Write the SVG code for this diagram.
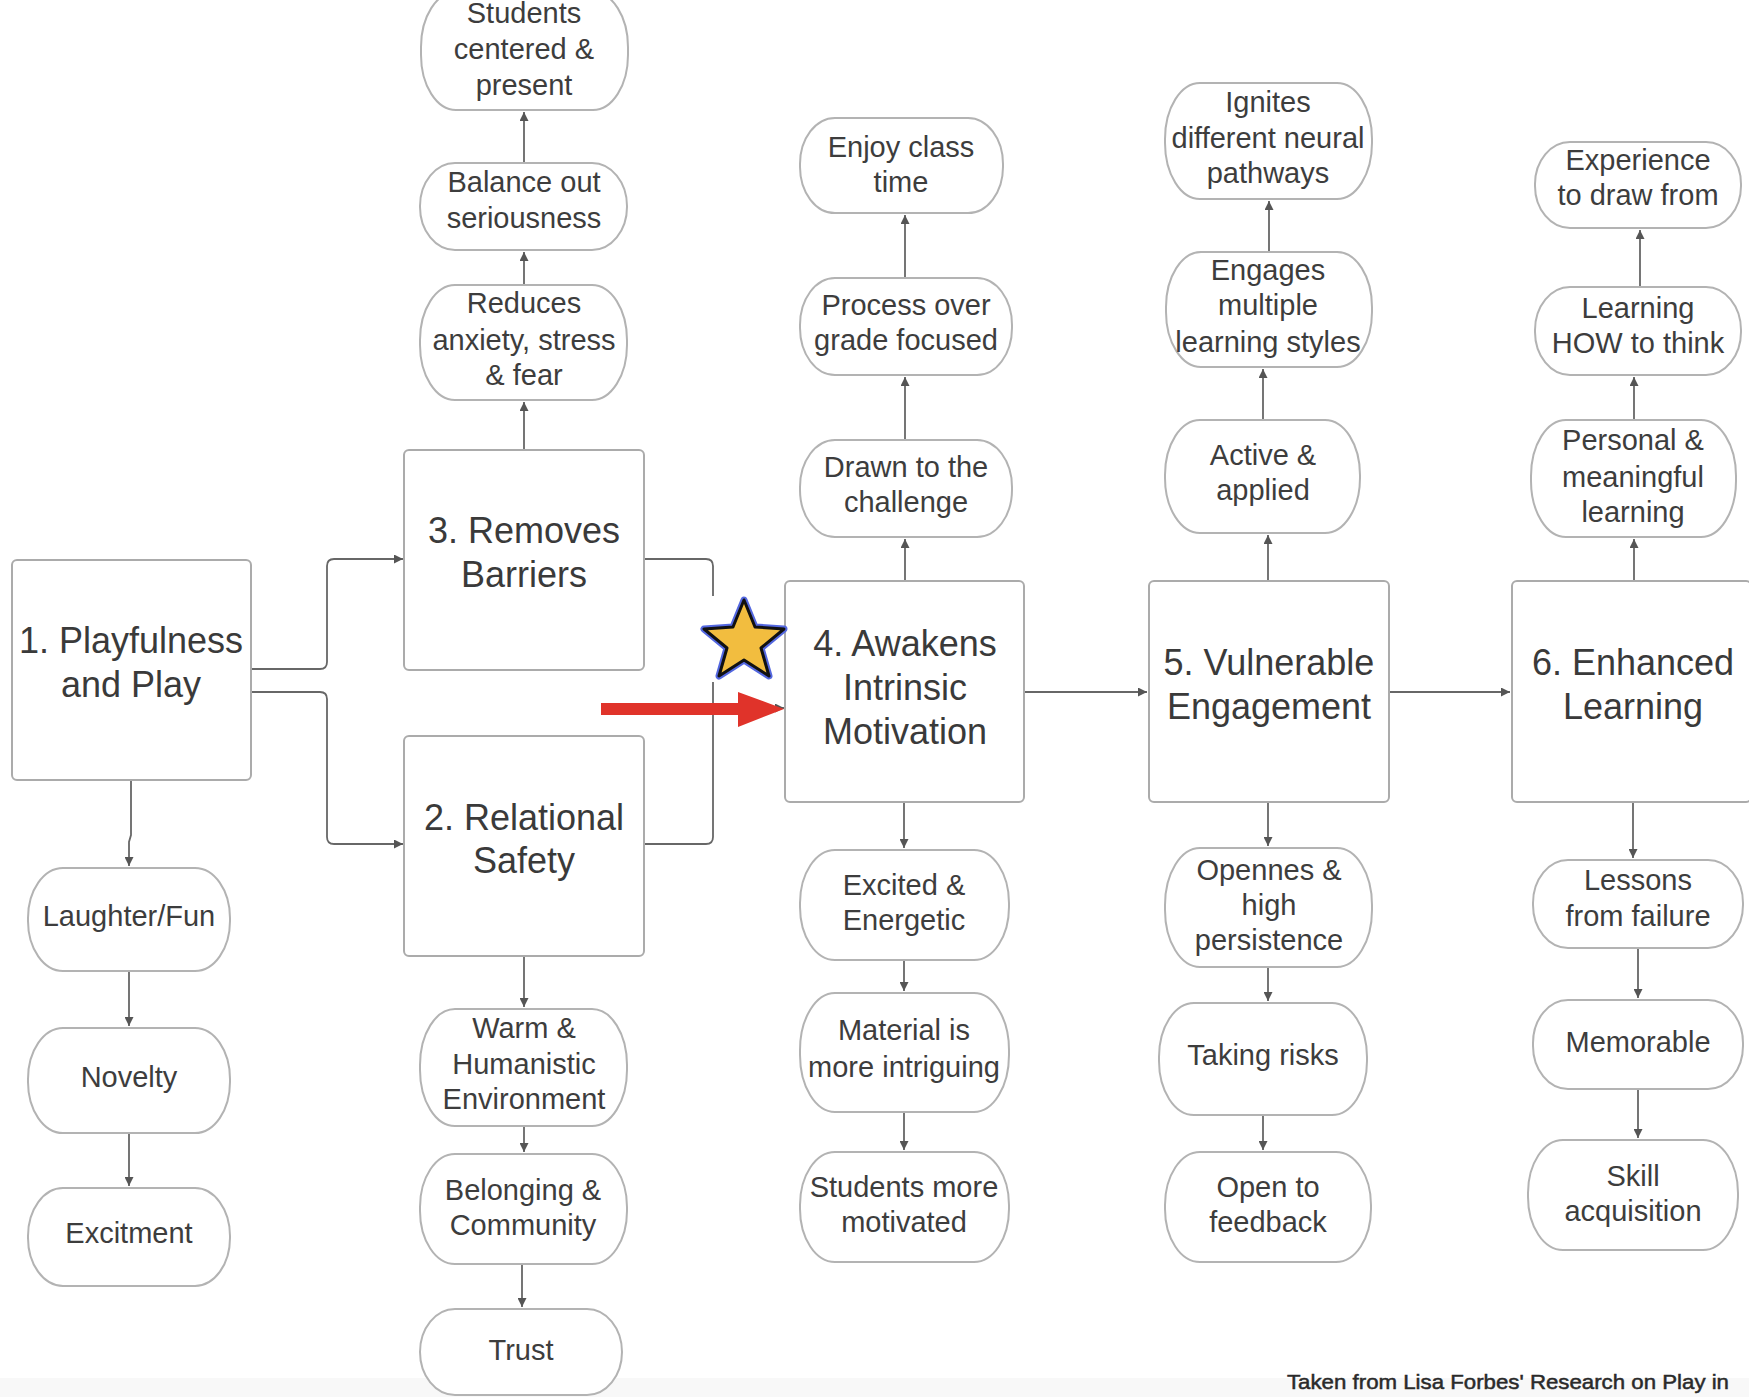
<svg xmlns="http://www.w3.org/2000/svg" width="1749" height="1397" viewBox="0 0 1749 1397">
<style>
.box{fill:#fff;stroke:#ababab;stroke-width:2}
.ov{fill:#fff;stroke:#b3b3b3;stroke-width:2}
.bt{font-family:"Liberation Sans",Arial,sans-serif;font-size:36px;fill:#3a3a3a;text-anchor:middle}
.ot{font-family:"Liberation Sans",Arial,sans-serif;font-size:29px;fill:#3d3d3d;text-anchor:middle}
.c{fill:none;stroke:#676767;stroke-width:1.8}
</style>
<defs>
<marker id="ah" viewBox="0 0 10 10" refX="10" refY="5" markerWidth="11" markerHeight="9" markerUnits="userSpaceOnUse" orient="auto">
<path d="M0,0 L10,5 L0,10 z" fill="#555"/>
</marker>
</defs>
<rect width="1749" height="1397" fill="#fff"/>
<rect x="0" y="1378" width="1749" height="19" fill="#f8f8f8"/>

<g id="connectors">
<path class="c" d="M131,781 V835 L129,842 V866" marker-end="url(#ah)"/>
<path class="c" d="M129,971 V1026" marker-end="url(#ah)"/>
<path class="c" d="M129,1133 V1186" marker-end="url(#ah)"/>
<path class="c" d="M252,669 H320 Q327,669 327,662 V566 Q327,559 334,559 H403" marker-end="url(#ah)"/>
<path class="c" d="M252,692 H320 Q327,692 327,699 V837 Q327,844 334,844 H403" marker-end="url(#ah)"/>
<path class="c" d="M645,559 H706 Q713,559 713,566 V708 H784" marker-end="url(#ah)"/>
<path class="c" d="M645,844 H706 Q713,844 713,837 V708"/>
<path class="c" d="M524,449 V402" marker-end="url(#ah)"/>
<path class="c" d="M524,285 V252" marker-end="url(#ah)"/>
<path class="c" d="M524,163 V112" marker-end="url(#ah)"/>
<path class="c" d="M524,957 V1007" marker-end="url(#ah)"/>
<path class="c" d="M524,1126 V1152" marker-end="url(#ah)"/>
<path class="c" d="M522,1264 V1307" marker-end="url(#ah)"/>
<path class="c" d="M905,580 V539" marker-end="url(#ah)"/>
<path class="c" d="M905,440 V377" marker-end="url(#ah)"/>
<path class="c" d="M905,278 V215" marker-end="url(#ah)"/>
<path class="c" d="M904,803 V848" marker-end="url(#ah)"/>
<path class="c" d="M904,960 V991" marker-end="url(#ah)"/>
<path class="c" d="M904,1112 V1150" marker-end="url(#ah)"/>
<path class="c" d="M1025,692 H1147" marker-end="url(#ah)"/>
<path class="c" d="M1390,692 H1510" marker-end="url(#ah)"/>
<path class="c" d="M1268,580 V535" marker-end="url(#ah)"/>
<path class="c" d="M1263,420 V369" marker-end="url(#ah)"/>
<path class="c" d="M1269,252 V201" marker-end="url(#ah)"/>
<path class="c" d="M1268,803 V846" marker-end="url(#ah)"/>
<path class="c" d="M1268,967 V1001" marker-end="url(#ah)"/>
<path class="c" d="M1263,1115 V1150" marker-end="url(#ah)"/>
<path class="c" d="M1634,580 V539" marker-end="url(#ah)"/>
<path class="c" d="M1634,420 V377" marker-end="url(#ah)"/>
<path class="c" d="M1640,287 V230" marker-end="url(#ah)"/>
<path class="c" d="M1633,803 V858" marker-end="url(#ah)"/>
<path class="c" d="M1638,948 V998" marker-end="url(#ah)"/>
<path class="c" d="M1638,1089 V1138" marker-end="url(#ah)"/>
</g>

<g id="box1"><rect class="box" x="12" y="560" width="239" height="220" rx="5"/>
<text class="bt" x="131" y="653">1. Playfulness</text><text class="bt" x="131" y="697">and Play</text></g>
<g id="box3"><rect class="box" x="404" y="450" width="240" height="220" rx="5"/>
<text class="bt" x="524" y="543">3. Removes</text><text class="bt" x="524" y="587">Barriers</text></g>
<g id="box2"><rect class="box" x="404" y="736" width="240" height="220" rx="5"/>
<text class="bt" x="524" y="830">2. Relational</text><text class="bt" x="524" y="873">Safety</text></g>
<g id="box4"><rect class="box" x="785" y="581" width="239" height="221" rx="5"/>
<text class="bt" x="905" y="656">4. Awakens</text><text class="bt" x="905" y="700">Intrinsic</text><text class="bt" x="905" y="744">Motivation</text></g>
<g id="box5"><rect class="box" x="1149" y="581" width="240" height="221" rx="5"/>
<text class="bt" x="1269" y="675">5. Vulnerable</text><text class="bt" x="1269" y="719">Engagement</text></g>
<g id="box6"><rect class="box" x="1512" y="581" width="239" height="221" rx="5"/>
<text class="bt" x="1633" y="675">6. Enhanced</text><text class="bt" x="1633" y="719">Learning</text></g>

<g id="students-centered"><rect class="ov" x="421" y="-8" width="207" height="118" rx="35" ry="55"/>
<text class="ot" x="524" y="23">Students</text><text class="ot" x="524" y="59">centered &amp;</text><text class="ot" x="524" y="95">present</text></g>
<g id="balance"><rect class="ov" x="420" y="163" width="207" height="87" rx="35" ry="43"/>
<text class="ot" x="524" y="192">Balance out</text><text class="ot" x="524" y="228">seriousness</text></g>
<g id="reduces"><rect class="ov" x="420" y="285" width="207" height="115" rx="35" ry="55"/>
<text class="ot" x="524" y="313">Reduces</text><text class="ot" x="524" y="350">anxiety, stress</text><text class="ot" x="524" y="385">&amp; fear</text></g>
<g id="warm"><rect class="ov" x="420" y="1009" width="207" height="117" rx="35" ry="56"/>
<text class="ot" x="524" y="1038">Warm &amp;</text><text class="ot" x="524" y="1074">Humanistic</text><text class="ot" x="524" y="1109">Environment</text></g>
<g id="belonging"><rect class="ov" x="420" y="1154" width="207" height="110" rx="35" ry="53"/>
<text class="ot" x="523" y="1200">Belonging &amp;</text><text class="ot" x="523" y="1235">Community</text></g>
<g id="trust"><rect class="ov" x="420" y="1309" width="202" height="86" rx="35" ry="43"/>
<text class="ot" x="521" y="1360">Trust</text></g>

<g id="laughter"><rect class="ov" x="28" y="868" width="202" height="103" rx="35" ry="50"/>
<text class="ot" x="129" y="926">Laughter/Fun</text></g>
<g id="novelty"><rect class="ov" x="28" y="1028" width="202" height="105" rx="35" ry="51"/>
<text class="ot" x="129" y="1087">Novelty</text></g>
<g id="excitment"><rect class="ov" x="28" y="1188" width="202" height="98" rx="35" ry="48"/>
<text class="ot" x="129" y="1243">Excitment</text></g>

<g id="enjoy"><rect class="ov" x="800" y="118" width="203" height="95" rx="35" ry="46"/>
<text class="ot" x="901" y="157">Enjoy class</text><text class="ot" x="901" y="192">time</text></g>
<g id="process"><rect class="ov" x="800" y="278" width="212" height="97" rx="35" ry="47"/>
<text class="ot" x="906" y="315">Process over</text><text class="ot" x="906" y="350">grade focused</text></g>
<g id="drawn"><rect class="ov" x="800" y="440" width="212" height="97" rx="35" ry="47"/>
<text class="ot" x="906" y="477">Drawn to the</text><text class="ot" x="906" y="512">challenge</text></g>
<g id="excited"><rect class="ov" x="800" y="850" width="209" height="110" rx="35" ry="53"/>
<text class="ot" x="904" y="895">Excited &amp;</text><text class="ot" x="904" y="930">Energetic</text></g>
<g id="material"><rect class="ov" x="800" y="993" width="209" height="119" rx="35" ry="57"/>
<text class="ot" x="904" y="1040">Material is</text><text class="ot" x="904" y="1077">more intriguing</text></g>
<g id="students-more"><rect class="ov" x="800" y="1152" width="209" height="110" rx="35" ry="53"/>
<text class="ot" x="904" y="1197">Students more</text><text class="ot" x="904" y="1232">motivated</text></g>

<g id="ignites"><rect class="ov" x="1165" y="83" width="207" height="116" rx="35" ry="56"/>
<text class="ot" x="1268" y="112">Ignites</text><text class="ot" x="1268" y="148">different neural</text><text class="ot" x="1268" y="183">pathways</text></g>
<g id="engages"><rect class="ov" x="1166" y="252" width="206" height="115" rx="35" ry="55"/>
<text class="ot" x="1268" y="280">Engages</text><text class="ot" x="1268" y="315">multiple</text><text class="ot" x="1268" y="352">learning styles</text></g>
<g id="active"><rect class="ov" x="1165" y="420" width="195" height="113" rx="35" ry="55"/>
<text class="ot" x="1263" y="465">Active &amp;</text><text class="ot" x="1263" y="500">applied</text></g>
<g id="opennes"><rect class="ov" x="1165" y="848" width="207" height="119" rx="35" ry="57"/>
<text class="ot" x="1269" y="880">Opennes &amp;</text><text class="ot" x="1269" y="915">high</text><text class="ot" x="1269" y="950">persistence</text></g>
<g id="taking"><rect class="ov" x="1159" y="1003" width="208" height="112" rx="35" ry="54"/>
<text class="ot" x="1263" y="1065">Taking risks</text></g>
<g id="open"><rect class="ov" x="1165" y="1152" width="206" height="110" rx="35" ry="53"/>
<text class="ot" x="1268" y="1197">Open to</text><text class="ot" x="1268" y="1232">feedback</text></g>

<g id="experience"><rect class="ov" x="1535" y="142" width="206" height="86" rx="35" ry="42"/>
<text class="ot" x="1638" y="170">Experience</text><text class="ot" x="1638" y="205">to draw from</text></g>
<g id="learning-how"><rect class="ov" x="1535" y="287" width="206" height="88" rx="35" ry="43"/>
<text class="ot" x="1638" y="318">Learning</text><text class="ot" x="1638" y="353">HOW to think</text></g>
<g id="personal"><rect class="ov" x="1531" y="420" width="205" height="117" rx="35" ry="56"/>
<text class="ot" x="1633" y="450">Personal &amp;</text><text class="ot" x="1633" y="487">meaningful</text><text class="ot" x="1633" y="522">learning</text></g>
<g id="lessons"><rect class="ov" x="1533" y="860" width="210" height="88" rx="35" ry="43"/>
<text class="ot" x="1638" y="890">Lessons</text><text class="ot" x="1638" y="926">from failure</text></g>
<g id="memorable"><rect class="ov" x="1533" y="1000" width="210" height="89" rx="35" ry="43"/>
<text class="ot" x="1638" y="1052">Memorable</text></g>
<g id="skill"><rect class="ov" x="1528" y="1140" width="210" height="110" rx="35" ry="53"/>
<text class="ot" x="1633" y="1186">Skill</text><text class="ot" x="1633" y="1221">acquisition</text></g>

<g id="red-arrow">
<path d="M601,703 H738 V692 L784,709 L738,727 V715 H601 z" fill="#e0332a"/>
</g>
<g id="star">
<rect x="704" y="596" width="80" height="86" fill="#fff"/>
<polygon points="744,600 755,627 784,629 761,648 769,676 744,660 719,676 727,648 704,629 733,627" fill="none" stroke="#5468e0" stroke-width="7" stroke-linejoin="round"/>
<polygon points="744,600 755,627 784,629 761,648 769,676 744,660 719,676 727,648 704,629 733,627" fill="#f2bd3f" stroke="#111" stroke-width="3" stroke-linejoin="round"/>
</g>

<text x="1729" y="1389" font-family="'Liberation Sans',Arial,sans-serif" font-size="21" fill="#2a2a2a" stroke="#2a2a2a" stroke-width="0.5" text-anchor="end" textLength="442" lengthAdjust="spacingAndGlyphs">Taken from Lisa Forbes' Research on Play in</text>
</svg>
